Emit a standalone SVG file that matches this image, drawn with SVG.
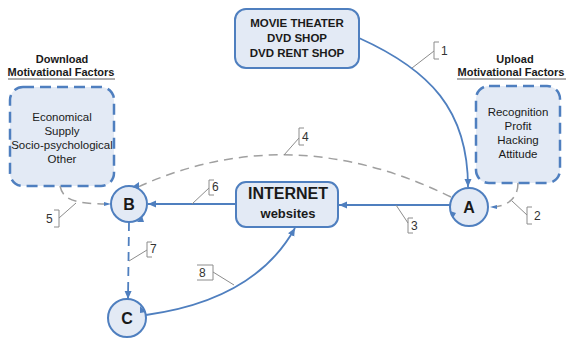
<svg xmlns="http://www.w3.org/2000/svg" width="566" height="340" viewBox="0 0 566 340">
<defs>
<marker id="ah" markerUnits="userSpaceOnUse" markerWidth="9" markerHeight="8" refX="8" refY="3.5" orient="auto"><path d="M0,0 L8,3.5 L0,7 z" fill="#4f7fbf"/></marker>
<style>
.box{fill:#e3eaf5;stroke:#4f7fbf;stroke-width:2}
.dbox{fill:#e3eaf5;stroke:#4f7fbf;stroke-width:2.5;stroke-dasharray:11,6}
.t{font-family:"Liberation Sans",Arial,sans-serif;fill:#1a1a1a;text-anchor:middle}
.b{font-weight:bold}
.c{stroke:#4f7fbf;stroke-width:1.8;fill:none}
.g{stroke:#a0a0a0;stroke-width:1.5;fill:none;stroke-dasharray:9,6}
.bd{stroke:#4f7fbf;stroke-width:1.8;fill:none;stroke-dasharray:9,6}
.lb{stroke:#8c8c8c;stroke-width:1;fill:none}
.n{font-family:"Liberation Sans",Arial,sans-serif;font-size:12px;fill:#333}
.tip{fill:#4f7fbf}
</style>
</defs>
<rect width="566" height="340" fill="#ffffff"/>

<g id="download">
<text class="t b" x="62" y="63" font-size="11">Download</text>
<text class="t b" x="61" y="76" font-size="11">Motivational Factors</text>
<line x1="8" y1="79" x2="115" y2="79" stroke="#333" stroke-width="0.8"/>
<rect class="dbox" x="10" y="87" width="104" height="99" rx="13"/>
<text class="t" x="62" y="121" font-size="11.5">Economical</text>
<text class="t" x="62" y="135" font-size="11.5">Supply</text>
<text class="t" x="62" y="149" font-size="11.5">Socio-psychological</text>
<text class="t" x="62" y="163" font-size="11.5">Other</text>
</g>

<g id="upload">
<text class="t b" x="515" y="63" font-size="11">Upload</text>
<text class="t b" x="511" y="76" font-size="11">Motivational Factors</text>
<line x1="457" y1="79" x2="566" y2="79" stroke="#333" stroke-width="0.8"/>
<rect class="dbox" x="476" y="86" width="84" height="97" rx="13"/>
<text class="t" x="518" y="116" font-size="11.5">Recognition</text>
<text class="t" x="518" y="130" font-size="11.5">Profit</text>
<text class="t" x="518" y="144" font-size="11.5">Hacking</text>
<text class="t" x="518" y="158" font-size="11.5">Attitude</text>
</g>

<g id="movie">
<rect class="box" x="235" y="9" width="124" height="59" rx="11"/>
<text class="t b" x="297" y="27" font-size="11.5">MOVIE THEATER</text>
<text class="t b" x="297" y="42" font-size="11.5">DVD SHOP</text>
<text class="t b" x="297" y="57" font-size="11.5">DVD RENT SHOP</text>
</g>

<g id="internet">
<rect class="box" x="236" y="182" width="102" height="45" rx="10"/>
<text class="t b" x="288" y="199" font-size="16">INTERNET</text>
<text class="t b" x="288" y="218" font-size="13">websites</text>
</g>

<g id="nodeA">
<circle class="box" cx="469" cy="207" r="19"/>
<text class="t b" x="469" y="213" font-size="16">A</text>
</g>
<g id="nodeB">
<circle class="box" cx="129" cy="204" r="18"/>
<text class="t b" x="129" y="210" font-size="16">B</text>
</g>
<g id="nodeC">
<circle class="box" cx="127" cy="318" r="19"/>
<text class="t b" x="127" y="324" font-size="16">C</text>
</g>

<g id="connectors">
<path class="c" d="M359,38 C430,70 468,110 468,187" marker-end="url(#ah)"/>
<path class="g" d="M518,183 C518,200 505,207 491,207"/>
<path d="M497,205 L490,207 L497,209 z" class="tip"/>
<path class="c" d="M450,205 L339,205" marker-end="url(#ah)"/>
<path class="g" d="M451,197 Q290,118 138,187"/>
<path d="M132,187 L139,182 L139,189 z" class="tip"/>
<path class="g" d="M60,186 C63,200 75,204 110,204"/>
<path d="M104,202 L111,204 L104,206 z" class="tip"/>
<path class="c" d="M236,204 L148,204" marker-end="url(#ah)"/>
<path class="bd" d="M129,222 L128,299" marker-end="url(#ah)"/>
<path class="c" d="M146,315 Q255,300 295,228" marker-end="url(#ah)"/>
<path d="M137,222 L142,216 L144,222 z" class="tip"/>
<path d="M450,211 L453,218 L456,213 z" class="tip"/>
<path d="M140,306 L146,312 L140,313 z" class="tip"/>

<path class="lb" d="M412,68 L434,51 M439,42 L434,42 L434,59 L439,59"/>
<text class="n" x="441" y="55">1</text>
<path class="lb" d="M512,201 L527,215 M532,207 L527,207 L527,224 L532,224"/>
<text class="n" x="534" y="220">2</text>
<path class="lb" d="M396,205 L408,223 M413,218 L408,218 L408,233 L413,233"/>
<text class="n" x="411" y="230">3</text>
<path class="lb" d="M284,155 L299,138 M304,128 L299,128 L299,145 L304,145"/>
<text class="n" x="302" y="141">4</text>
<path class="lb" d="M76,203 L59,218 M54,210 L59,210 L59,227 L54,227"/>
<text class="n" x="46" y="223">5</text>
<path class="lb" d="M192,204 L209,188 M214,180 L209,180 L209,195 L214,195"/>
<text class="n" x="212" y="191">6</text>
<path class="lb" d="M129,261 L147,250 M152,242 L147,242 L147,257 L152,257"/>
<text class="n" x="150" y="253">7</text>
<path class="lb" d="M234,285 L213,272 M197,265 L213,265 L213,280 L197,280"/>
<text class="n" x="199" y="277">8</text>
</g>
</svg>
